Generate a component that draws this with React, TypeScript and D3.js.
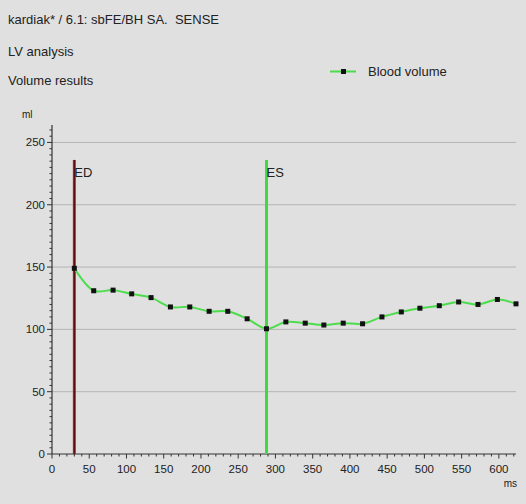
import React from "react";
import * as d3 from "d3";

// Sample times (ms) and left-ventricular blood volume (ml)
const timesMs = [30, 56, 82, 107, 133, 159, 185, 211, 236, 262, 288, 314, 340, 365, 391, 417, 443, 469, 494, 520, 546, 572, 598, 623];
const volumeMl = [149, 131, 131.5, 128.5, 125.5, 118, 118, 114.5, 114.5, 108.5, 100.5, 106, 105, 103.5, 105, 104.5, 110, 114, 117, 119, 122, 120, 124, 120.5];

// Cardiac phase markers
const phaseLabels = ["ED", "ES"];
const phaseTimes = [30, 288];
const phaseTop = 236;

const yMajorTicks = [0, 50, 100, 150, 200, 250];
const xMajorTicks = [0, 50, 100, 150, 200, 250, 300, 350, 400, 450, 500, 550, 600];

const headerLines = ["kardiak* / 6.1: sbFE/BH SA.  SENSE", "LV analysis", "Volume results"];
const legendLabel = "Blood volume";

const W = 526;
const H = 504;
const FONT = "'Liberation Sans', Arial, sans-serif";

export default function App() {
  const x = d3.scaleLinear().domain([0, 623]).range([52, 516]);
  const y = d3.scaleLinear().domain([0, 264]).range([454, 125]);

  const yMinor = d3.range(0, 265, 5);
  const xMinor = d3.range(0, 621, 10);

  const line = d3
    .line<number>()
    .x((_, i) => x(timesMs[i]))
    .y((d) => y(d))
    .curve(d3.curveCatmullRom.alpha(0.5));

  const headerY = [24, 56, 85];

  return (
    <svg
      width={W}
      height={H}
      style={{ position: "fixed", left: 0, top: 0, display: "block", background: "#e0e0e0" }}
      fontFamily={FONT}
    >
      <rect x={0} y={0} width={W} height={H} fill="#e0e0e0" />

      {headerLines.map((t, i) => (
        <text key={t} x={8} y={headerY[i]} fontSize={13} fill="#222" style={{ whiteSpace: "pre" }}>
          {t}
        </text>
      ))}

      {/* legend */}
      <line x1={330} x2={356} y1={71.5} y2={71.5} stroke="#4cdc4c" strokeWidth={2} />
      <rect x={341} y={69} width={5} height={5} fill="#111" />
      <text x={368} y={76} fontSize={13} fill="#222">
        {legendLabel}
      </text>

      {/* unit label */}
      <text x={22} y={118} fontSize={10} fill="#222">
        ml
      </text>

      {/* horizontal grid */}
      {yMajorTicks
        .filter((v) => v > 0)
        .map((v) => (
          <line key={v} x1={x(0)} x2={x(623)} y1={y(v)} y2={y(v)} stroke="#b4b4b4" strokeWidth={1} />
        ))}

      {/* y axis */}
      <line x1={x(0)} x2={x(0)} y1={y(264)} y2={y(0)} stroke="#333" strokeWidth={1.2} />
      {yMinor.map((v) => (
        <line key={v} x1={x(0) - (v % 50 === 0 ? 5 : 2.5)} x2={x(0)} y1={y(v)} y2={y(v)} stroke="#333" strokeWidth={1} />
      ))}
      {yMajorTicks.map((v) => (
        <text key={v} x={x(0) - 7} y={y(v)} dy="0.35em" textAnchor="end" fontSize={11.5} fill="#222">
          {v}
        </text>
      ))}

      {/* x axis */}
      <line x1={x(0)} x2={x(623)} y1={y(0)} y2={y(0)} stroke="#333" strokeWidth={1.2} />
      {xMinor.map((v) => (
        <line key={v} x1={x(v)} x2={x(v)} y1={y(0)} y2={y(0) + (v % 50 === 0 ? 4.5 : 2.5)} stroke="#333" strokeWidth={1} />
      ))}
      {xMajorTicks.map((v) => (
        <text key={v} x={x(v)} y={473} textAnchor="middle" fontSize={11.5} fill="#222">
          {v}
        </text>
      ))}
      <text x={517} y={487} textAnchor="end" fontSize={10} fill="#222">
        ms
      </text>

      {/* ED marker */}
      <line x1={x(phaseTimes[0])} x2={x(phaseTimes[0])} y1={y(phaseTop)} y2={y(0)} stroke="#b02828" strokeWidth={3} />
      <line x1={x(phaseTimes[0])} x2={x(phaseTimes[0])} y1={y(phaseTop)} y2={y(0)} stroke="#4a0c0c" strokeWidth={1} />

      {/* volume curve */}
      <path d={line(volumeMl) ?? ""} fill="none" stroke="#4cdc4c" strokeWidth={2} />

      {/* ES marker */}
      <line x1={x(phaseTimes[1])} x2={x(phaseTimes[1])} y1={y(phaseTop)} y2={y(0)} stroke="#3ddc3d" strokeWidth={3} />

      {volumeMl.map((v, i) => (
        <rect key={i} x={x(timesMs[i]) - 2.5} y={y(v) - 2.5} width={5} height={5} fill="#111" />
      ))}

      {phaseLabels.map((l, i) => (
        <text key={l} x={x(phaseTimes[i])} y={177} fontSize={13} fill="#222">
          {l}
        </text>
      ))}
    </svg>
  );
}
